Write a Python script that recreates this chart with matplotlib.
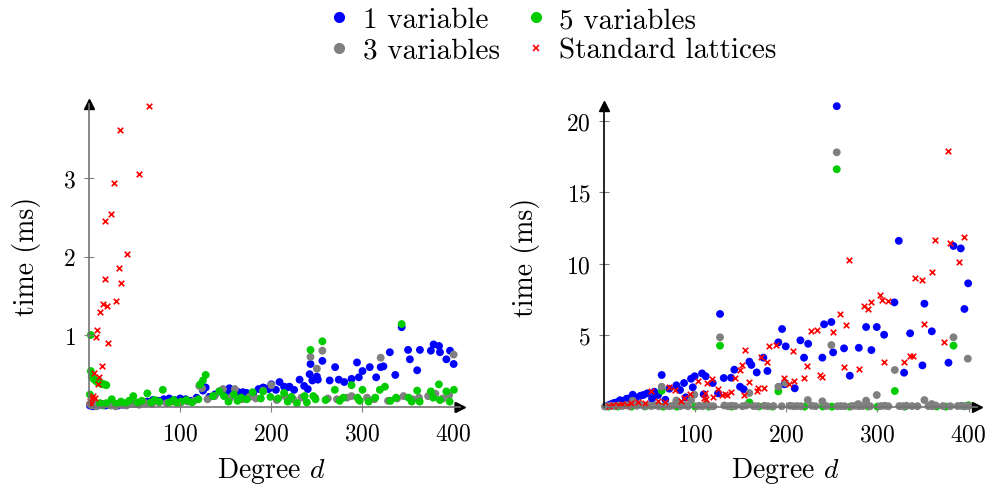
import matplotlib.pyplot as plt
from matplotlib.lines import Line2D

plt.rcParams['font.family'] = 'cmr10'
plt.rcParams['mathtext.fontset'] = 'cm'
plt.rcParams['axes.formatter.use_mathtext'] = True

# ---------------- colours ----------------
c_one = '#0000ff'
c_three = '#808080'
c_five = '#00cc00'
c_std = '#ff0000'

# ---------------- left panel data ----------------
left_one_x = [1, 4, 7, 10, 14, 18, 22, 27, 32, 37, 42, 47, 52, 58, 64, 70, 76, 82, 88, 94, 100, 106, 112, 118,
              125, 128, 132, 138, 143, 148, 151, 154, 159, 164, 169, 173, 180, 186, 191, 193, 197, 200, 205, 209,
              214, 217, 220, 225, 231, 236, 240, 242, 243, 245, 250, 251, 256, 264, 270, 274, 280, 288, 294, 296,
              300, 308, 315, 320, 323, 330, 336, 343, 350, 352, 360, 363, 375, 378, 384, 385, 392, 396, 400]
left_one_y = [0.10, 0.09, 0.11, 0.10, 0.12, 0.10, 0.11, 0.12, 0.10, 0.11, 0.12, 0.13, 0.12, 0.14, 0.15, 0.17,
              0.16, 0.18, 0.19, 0.17, 0.19, 0.18, 0.16, 0.20, 0.29, 0.33, 0.21, 0.24, 0.28, 0.30, 0.26, 0.32,
              0.29, 0.27, 0.27, 0.26, 0.25, 0.31, 0.33, 0.32, 0.31, 0.37, 0.30, 0.40, 0.34, 0.33, 0.34, 0.30,
              0.43, 0.35, 0.31, 0.50, 0.63, 0.42, 0.47, 0.43, 0.67, 0.42, 0.59, 0.43, 0.40, 0.44, 0.65, 0.46,
              0.54, 0.59, 0.46, 0.59, 0.60, 0.78, 0.49, 1.10, 0.81, 0.69, 0.55, 0.81, 0.80, 0.88, 0.86, 0.78,
              0.69, 0.80, 0.63]

left_three_x = [1, 3, 5, 8, 11, 15, 19, 24, 29, 35, 41, 48, 55, 62, 69, 77, 85, 93, 101, 108, 115, 121, 124,
                130, 138, 147, 155, 160, 168, 176, 183, 191, 200, 206, 215, 224, 233, 243, 248, 250, 256, 262,
                272, 283, 288, 296, 305, 313, 320, 328, 338, 345, 355, 362, 372, 380, 388, 395, 400]
left_three_y = [0.12, 0.10, 0.14, 0.09, 0.11, 0.10, 0.12, 0.10, 0.09, 0.11, 0.10, 0.12, 0.11, 0.13, 0.12, 0.14,
                0.13, 0.15, 0.14, 0.15, 0.16, 0.35, 0.32, 0.18, 0.22, 0.31, 0.20, 0.31, 0.18, 0.21, 0.19, 0.29,
                0.36, 0.17, 0.22, 0.18, 0.20, 0.72, 0.20, 0.57, 0.80, 0.19, 0.18, 0.20, 0.22, 0.17, 0.20, 0.18,
                0.71, 0.16, 0.19, 0.22, 0.18, 0.20, 0.22, 0.25, 0.19, 0.23, 0.75]

left_five_x = [1, 2, 2, 3, 5, 7, 9, 11, 13, 15, 17, 19, 12, 16, 19, 25, 30, 35, 40, 44, 48.6, 53, 58, 64, 68,
               72, 77, 81, 88, 93, 97, 101, 107, 113, 120, 122, 125, 128, 136, 143, 148, 153, 159, 163, 167,
               173, 179.5, 188.5, 191, 199, 207.5, 214, 218, 222, 228, 236.5, 239, 243, 246, 248.5, 256,
               259.5, 269.7, 275, 279, 288, 294.5, 297, 300, 306.7, 314, 319, 324.6, 330.8, 336.8, 343,
               350.5, 354, 360, 362.7, 375, 377.5, 383.8, 385, 392, 395.6, 400.3]
left_five_y = [0.24, 1.00, 0.54, 0.47, 0.44, 0.42, 0.40, 0.41, 0.38, 0.37, 0.37, 0.36, 0.13, 0.11, 0.13, 0.18,
               0.12, 0.15, 0.13, 0.16, 0.22, 0.14, 0.16, 0.255, 0.14, 0.17, 0.15, 0.30, 0.14, 0.17, 0.13, 0.15,
               0.17, 0.14, 0.18, 0.37, 0.42, 0.49, 0.22, 0.28, 0.22, 0.15, 0.24, 0.16, 0.20, 0.18, 0.27, 0.19,
               0.28, 0.21, 0.19, 0.26, 0.15, 0.21, 0.13, 0.22, 0.14, 0.81, 0.22, 0.18, 0.92, 0.17, 0.30, 0.16,
               0.20, 0.36, 0.20, 0.16, 0.30, 0.15, 0.20, 0.30, 0.34, 0.16, 0.20, 1.14, 0.20, 0.15, 0.29, 0.15,
               0.28, 0.20, 0.37, 0.17, 0.28, 0.15, 0.30]

left_std_x = [65.8, 33.9, 54.8, 27.7, 24.1, 17.9, 42, 32.9, 17.2, 35.1, 15.7, 19.4, 29.9, 11.7, 8.8, 7.7, 21.2,
              14.6, 5.8, 11, 9.5, 3.3, 6.6, 2.2, 1, 4.5]
left_std_y = [3.92, 3.62, 3.05, 2.94, 2.55, 2.45, 2.04, 1.85, 1.71, 1.66, 1.40, 1.37, 1.43, 1.29, 1.07, 0.97,
              0.90, 0.60, 0.52, 0.47, 0.38, 0.195, 0.195, 0.12, 0.16, 0.22]

# ---------------- right panel data ----------------
right_one_x = [2, 5, 8, 11, 14, 17.6, 20, 24.8, 28, 31.5, 35, 40, 43.1, 47.5, 52.7, 55.2, 59.3, 63.3, 67.3,
               71.7, 79.4, 83.4, 87.8, 89.7, 95.5, 97.4, 99.5, 107.6, 109.4, 111.6, 119.3, 125.1, 127.3, 131.4,
               139.4, 143, 149.3, 153.3, 159.5, 161.7, 167.6, 174.9, 179.3, 191.3, 195.4, 197.9, 199.4, 209.3,
               215.5, 219.5, 224, 239.6, 241.5, 249.5, 251.4, 255.4, 263.4, 269.7, 279.6, 287.6, 293.4, 299.3,
               307.4, 318.7, 323.5, 329.3, 335.9, 349.4, 351.6, 359.7, 378, 383.5, 391.5, 395.5, 399.6]
right_one_y = [0.05, 0.12, 0.20, 0.28, 0.32, 0.47, 0.42, 0.57, 0.60, 0.85, 0.65, 0.78, 0.83, 0.95, 0.57, 1.06,
               0.83, 2.23, 0.50, 1.27, 1.51, 1.18, 1.67, 0.67, 1.97, 1.37, 2.14, 2.34, 0.88, 2.14, 1.67, 0.95,
               6.49, 2.02, 2.04, 2.60, 1.41, 1.23, 3.16, 2.93, 2.41, 3.44, 2.51, 4.51, 5.44, 1.58, 4.23, 1.30,
               4.65, 3.44, 4.41, 3.44, 5.77, 5.93, 3.81, 21.0, 4.09, 2.18, 4.13, 5.58, 3.97, 5.58, 5.04, 7.30,
               11.6, 2.39, 5.14, 2.90, 7.21, 5.28, 3.09, 11.24, 11.07, 6.84, 8.63]

right_five_x = [255.4, 127.3, 383.5, 319.1, 191.3, 159.5, 63.3, 5, 15, 30, 45, 65, 80, 100, 115, 140, 170,
                185, 220, 240, 250, 270, 290, 300, 330, 365, 375, 395, 400]
right_five_y = [16.6, 4.28, 4.28, 1.11, 1.09, 0.32, 1.13, 0.02, 0.03, 0.02, 0.03, 0.02, 0.02, 0.03, 0.02, 0.02,
                0.03, 0.02, 0.02, 0.03, 0.02, 0.02, 0.03, 0.02, 0.02, 0.03, 0.02, 0.05, 0.12]

right_three_x = [255.4, 127.3, 249.5, 383.5, 399.2, 319.1, 199, 191.3, 63.3, 31.5, 159.5, 99.1, 299.3, 223.6,
                 239.6, 287.6, 351.6, 79.4, 95.5, 279, 359.5,
                 1, 4, 8, 12, 16, 20, 24, 28, 36, 40, 44, 48, 52, 56, 60, 68, 72, 76, 84, 88, 92, 104, 108, 112,
                 116, 120, 132, 136, 140, 144, 152, 156, 164, 168, 176, 180, 186, 195, 204, 208, 212, 216, 228,
                 232, 244, 256, 260, 264, 272, 276, 280, 284, 292, 304, 308, 312, 324, 328, 332, 338, 344, 356,
                 360, 364, 372, 380, 388, 392, 396, 400]
right_three_y = [17.78, 4.86, 4.32, 4.86, 3.37, 2.58, 1.67, 1.41, 1.41, 0.43, 0.97, 0.85, 0.83, 0.48, 0.39,
                 0.44, 0.48, 0.45, 0.45, 0.20, 0.20,
                 0.03, 0.05, 0.08, 0.05, 0.10, 0.06, 0.12, 0.05, 0.08, 0.15, 0.05, 0.10, 0.06, 0.12, 0.05, 0.08,
                 0.05, 0.10, 0.06, 0.12, 0.05, 0.08, 0.05, 0.15, 0.06, 0.05, 0.10, 0.05, 0.08, 0.06, 0.05, 0.10,
                 0.06, 0.05, 0.08, 0.05, 0.06, 0.05, 0.08, 0.05, 0.06, 0.05, 0.08, 0.05, 0.06, 0.05, 0.06, 0.05,
                 0.06, 0.08, 0.05, 0.06, 0.05, 0.06, 0.08, 0.05, 0.06, 0.05, 0.08, 0.06, 0.05, 0.06, 0.05, 0.10,
                 0.06, 0.05, 0.06, 0.08, 0.05, 0.06]

right_std_x = [377.3, 395.5, 363.7, 379.5, 389.3, 269.3, 341.4, 349.4, 359.7, 303.3, 305.2, 311.4, 293.4, 285.4,
               289.4, 259.4, 265.6, 251.4, 233.5, 227.2, 351.6, 373.5, 335.9, 338.8, 329.3, 307.4, 279.6, 263.4,
               237.5, 239.6, 219.2, 223.2, 207.1, 188.9, 181.1, 178.9, 172.7, 175.4, 169, 203.1, 197.6, 208.9,
               155.1, 151.5, 149.3, 159.5, 153.3, 113.4, 118.9, 125.1, 129, 132.5, 135, 103.2, 94.7, 109.8,
               143.8, 139, 167.6, 77.6, 71, 84.9, 88, 110.5, 112, 119.6, 52, 37.3, 59.3, 66.4, 5, 10, 15, 20,
               25, 30, 45]
right_std_y = [17.87, 11.84, 11.68, 11.42, 10.14, 10.28, 8.98, 8.88, 9.44, 7.81, 7.49, 7.37, 7.35, 7.02, 6.84,
               6.49, 5.74, 5.25, 5.39, 5.32, 5.81, 4.55, 3.58, 3.58, 3.11, 3.14, 2.65, 2.81, 2.23, 2.06, 2.00,
               2.88, 3.88, 4.34, 4.28, 3.11, 3.51, 1.30, 1.34, 1.60, 2.00, 1.79, 3.95, 2.90, 2.60, 1.72, 0.85,
               1.67, 1.95, 1.25, 0.85, 0.90, 0.80, 1.81, 0.88, 0.60, 2.00, 1.02, 1.13, 1.20, 1.37, 0.43, 0.60,
               0.97, 0.55, 0.71, 1.13, 0.36, 0.43, 0.33, 0.05, 0.10, 0.12, 0.20, 0.15, 0.25, 0.30]

left_yticks = [1, 2, 3]
right_yticks = [5, 10, 15, 20]
xticks = [100, 200, 300, 400]

# ---------------- figure ----------------
fig = plt.figure(figsize=(9.91, 4.89), dpi=100)
axL = fig.add_axes([0.0898, 0.1663, 0.3744, 0.619])
axR = fig.add_axes([0.6095, 0.1658, 0.3761, 0.615])

dot = 32
cross = 16


def style_axis(ax, ycol):
    for s in ['top', 'right']:
        ax.spines[s].set_visible(False)
    ax.spines['bottom'].set_color('0.45')
    ax.spines['bottom'].set_linewidth(1.2)
    ax.spines['left'].set_color(ycol)
    ax.spines['left'].set_linewidth(1.2)
    ax.tick_params(direction='inout', length=7, width=0.8, color='0.5', labelsize=17)
    ax.tick_params(axis='y', pad=6)
    ax.tick_params(axis='x', pad=8)
    ax.plot(1, 0, '>', color='k', markersize=7, transform=ax.transAxes, clip_on=False)
    ax.plot(0, 1, '^', color='k', markersize=7, transform=ax.transAxes, clip_on=False)
    ax.set_xticks(xticks)
    ax.set_xlabel('Degree $d$', fontsize=20)
    ax.set_ylabel('time (ms)', fontsize=20)


# left panel
axL.scatter(left_one_x, left_one_y, s=dot, c=c_one, edgecolors='none', clip_on=False)
axL.scatter(left_three_x, left_three_y, s=dot, c=c_three, edgecolors='none', clip_on=False)
axL.scatter(left_five_x, left_five_y, s=dot, c=c_five, edgecolors='none', clip_on=False)
axL.scatter(left_std_x, left_std_y, s=cross, c=c_std, marker='x', linewidths=1.2, clip_on=False)
axL.set_xlim(0, 407)
axL.set_ylim(0.085, 3.95)
axL.set_yticks(left_yticks)
style_axis(axL, '0.45')
axL.xaxis.set_label_coords(0.49, -0.16)
axL.yaxis.set_label_coords(-0.13, 0.5)

# right panel
axR.scatter(right_one_x, right_one_y, s=dot, c=c_one, edgecolors='none', clip_on=False)
axR.scatter(right_five_x, right_five_y, s=dot, c=c_five, edgecolors='none', clip_on=False)
axR.scatter(right_three_x, right_three_y, s=dot, c=c_three, edgecolors='none', clip_on=False)
axR.scatter(right_std_x, right_std_y, s=cross, c=c_std, marker='x', linewidths=1.2, clip_on=False)
axR.set_xlim(0, 409)
axR.set_ylim(0, 21.0)
axR.set_yticks(right_yticks)
style_axis(axR, 'k')
axR.xaxis.set_label_coords(0.487, -0.16)
axR.yaxis.set_label_coords(-0.172, 0.5)

# legend
handles = [
    Line2D([], [], ls='none', marker='o', color=c_one, markersize=7),
    Line2D([], [], ls='none', marker='o', color=c_three, markersize=7),
    Line2D([], [], ls='none', marker='o', color=c_five, markersize=7),
    Line2D([], [], ls='none', marker='x', color=c_std, markersize=5, markeredgewidth=1.2),
]
labels = ['1 variable', '3 variables', '5 variables', 'Standard lattices']
fig.legend(handles, labels, ncol=2, loc='upper left', bbox_to_anchor=(0.313, 1.026), frameon=False,
           fontsize=21, handlelength=0.6, handletextpad=0.5, columnspacing=0.95, labelspacing=0.15,
           borderpad=0.2)

fig.savefig('out.png', dpi=100)
